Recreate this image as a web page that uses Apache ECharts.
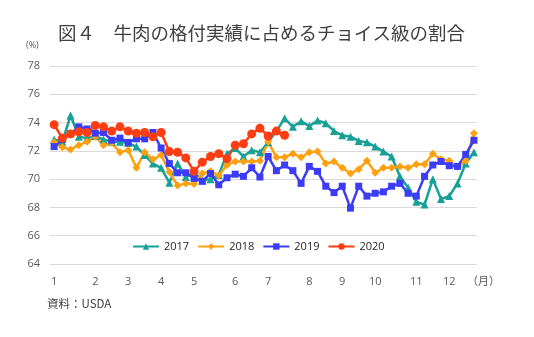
<!DOCTYPE html>
<html>
<head>
<meta charset="utf-8">
<script src="https://cdn.jsdelivr.net/npm/echarts@6/dist/echarts.min.js"></script>
<style>
  html, body { margin: 0; padding: 0; background: #ffffff; }
  #chart { width: 534px; height: 337px; }
</style>
</head>
<body>
<div id="chart"></div>
<script>
// Weekly share of Choice grade in graded beef (%), week 0 = first week of January
const share2017 = [72.8, 72.65, 74.5, 73.0, 72.9, 73.05, 72.8, 72.65, 72.65, 72.55,
  72.3, 71.7, 71.1, 70.8, 69.75, 71.1, 70.15, 70.5, 69.9, 70.0,
  70.3, 71.8, 72.2, 71.6, 72.05, 71.9, 72.6, 73.4, 74.3, 73.7,
  74.1, 73.75, 74.15, 73.95, 73.4, 73.1, 73.0, 72.7, 72.6, 72.3,
  71.95, 71.6, 70.2, 69.4, 68.4, 68.2, 70.0, 68.6, 68.8, 69.7,
  71.1, 71.9];
const share2018 = [72.6, 72.25, 72.1, 72.4, 72.65, 73.0, 72.4, 72.55, 71.9, 72.05,
  70.8, 71.9, 71.4, 71.7, 70.5, 69.55, 69.7, 69.65, 70.4, 70.55,
  70.25, 71.0, 71.25, 71.25, 71.25, 71.3, 72.65, 71.55, 71.55, 71.8,
  71.55, 71.9, 71.95, 71.1, 71.25, 70.8, 70.4, 70.7, 71.3, 70.45,
  70.8, 70.8, 70.9, 70.8, 71.05, 71.05, 71.8, 71.4, 71.3, 70.85,
  71.3, 73.25];
const share2019 = [72.3, 72.8, 73.2, 73.7, 73.55, 73.25, 73.3, 72.75, 72.9, 72.6,
  72.85, 72.85, 73.3, 72.2, 71.1, 70.45, 70.45, 70.05, 69.85, 70.4,
  69.6, 70.1, 70.35, 70.2, 70.8, 70.15, 71.6, 70.6, 71.0, 70.6,
  69.7, 70.9, 70.55, 69.5, 69.05, 69.5, 67.95, 69.5, 68.8, 69.0,
  69.1, 69.5, 69.7, 69.0, 68.8, 70.2, 71.0, 71.25, 70.95, 70.9,
  71.75, 72.75];
const share2020 = [73.85, 72.9, 73.2, 73.35, 73.3, 73.8, 73.7, 73.4, 73.7, 73.4,
  73.25, 73.3, 73.0, 73.3, 71.95, 71.9, 71.5, 70.55, 71.2, 71.6,
  71.8, 71.45, 72.4, 72.5, 73.2, 73.6, 73.05, 73.4, 73.1];

// Week on which each month begins, and its label
const monthStartWeeks = [0, 5, 9, 13, 17, 22, 26, 31, 35, 39, 44, 48];
const monthLabels = ['1', '2', '3', '4', '5', '6', '7', '8', '9', '10', '11', '12'];

// Y axis range
const yMin = 64, yMax = 78, yStep = 2;

const labelFont = '"Open Sans", "Noto Sans", sans-serif';
const cjkFont = '"Noto Sans CJK JP", "Noto Sans", sans-serif';

function toPoints(values) {
  return values.map((v, week) => [week, v]);
}

const chart = echarts.init(document.getElementById('chart'), null, { renderer: 'canvas' });

const lineSeries = (name, values, color, symbol, size) => ({
  name: name,
  type: 'line',
  data: toPoints(values),
  symbol: symbol,
  symbolSize: size,
  showAllSymbol: true,
  lineStyle: { color: color, width: 2.5 },
  itemStyle: { color: color, borderWidth: 0 },
  emphasis: { disabled: true },
  animation: false
});

chart.setOption({
  animation: false,
  title: {
    text: '図４　牛肉の格付実績に占めるチョイス級の割合',
    left: 58,
    top: 24,
    padding: 0,
    textStyle: { fontFamily: cjkFont, fontSize: 18.5, fontWeight: 'normal', color: '#404040' }
  },
  grid: { left: 50, right: 57, top: 66, bottom: 73, containLabel: false },
  legend: {
    left: 132,
    top: 241,
    padding: 0,
    itemWidth: 26,
    itemHeight: 8,
    itemGap: 8,
    textStyle: { fontFamily: labelFont, fontSize: 11, color: '#262626' },
    data: ['2017', '2018', '2019', '2020']
  },
  xAxis: {
    type: 'value',
    min: -0.5,
    max: 51.37,
    axisLine: { show: false },
    axisTick: { show: false },
    splitLine: { show: false },
    axisLabel: {
      customValues: monthStartWeeks,
      formatter: (val) => monthLabels[monthStartWeeks.indexOf(val)],
      margin: 12,
      fontFamily: labelFont,
      fontSize: 11,
      color: '#595959'
    }
  },
  yAxis: {
    type: 'value',
    min: yMin,
    max: yMax,
    interval: yStep,
    axisLine: { show: false },
    axisTick: { show: false },
    axisLabel: { margin: 10, fontFamily: labelFont, fontSize: 11, color: '#595959' },
    splitLine: { lineStyle: { color: '#d9d9d9', width: 1 } }
  },
  graphic: [
    { type: 'text', left: 26, top: 41, style: { text: '(%)', fontFamily: labelFont, fontSize: 9, fill: '#595959' } },
    { type: 'text', left: 467, top: 275, style: { text: '（月）', fontFamily: cjkFont, fontSize: 11, fill: '#595959' } },
    { type: 'text', left: 47, top: 298, style: { text: '資料：USDA', fontFamily: cjkFont, fontSize: 11.5, fill: '#404040' } }
  ],
  series: [
    lineSeries('2017', share2017, '#17a095', 'triangle', 8),
    lineSeries('2018', share2018, '#ffa010', 'diamond', 8),
    lineSeries('2019', share2019, '#3c3cf6', 'rect', 7),
    lineSeries('2020', share2020, '#ff3d12', 'circle', 9)
  ]
});
</script>
</body>
</html>
